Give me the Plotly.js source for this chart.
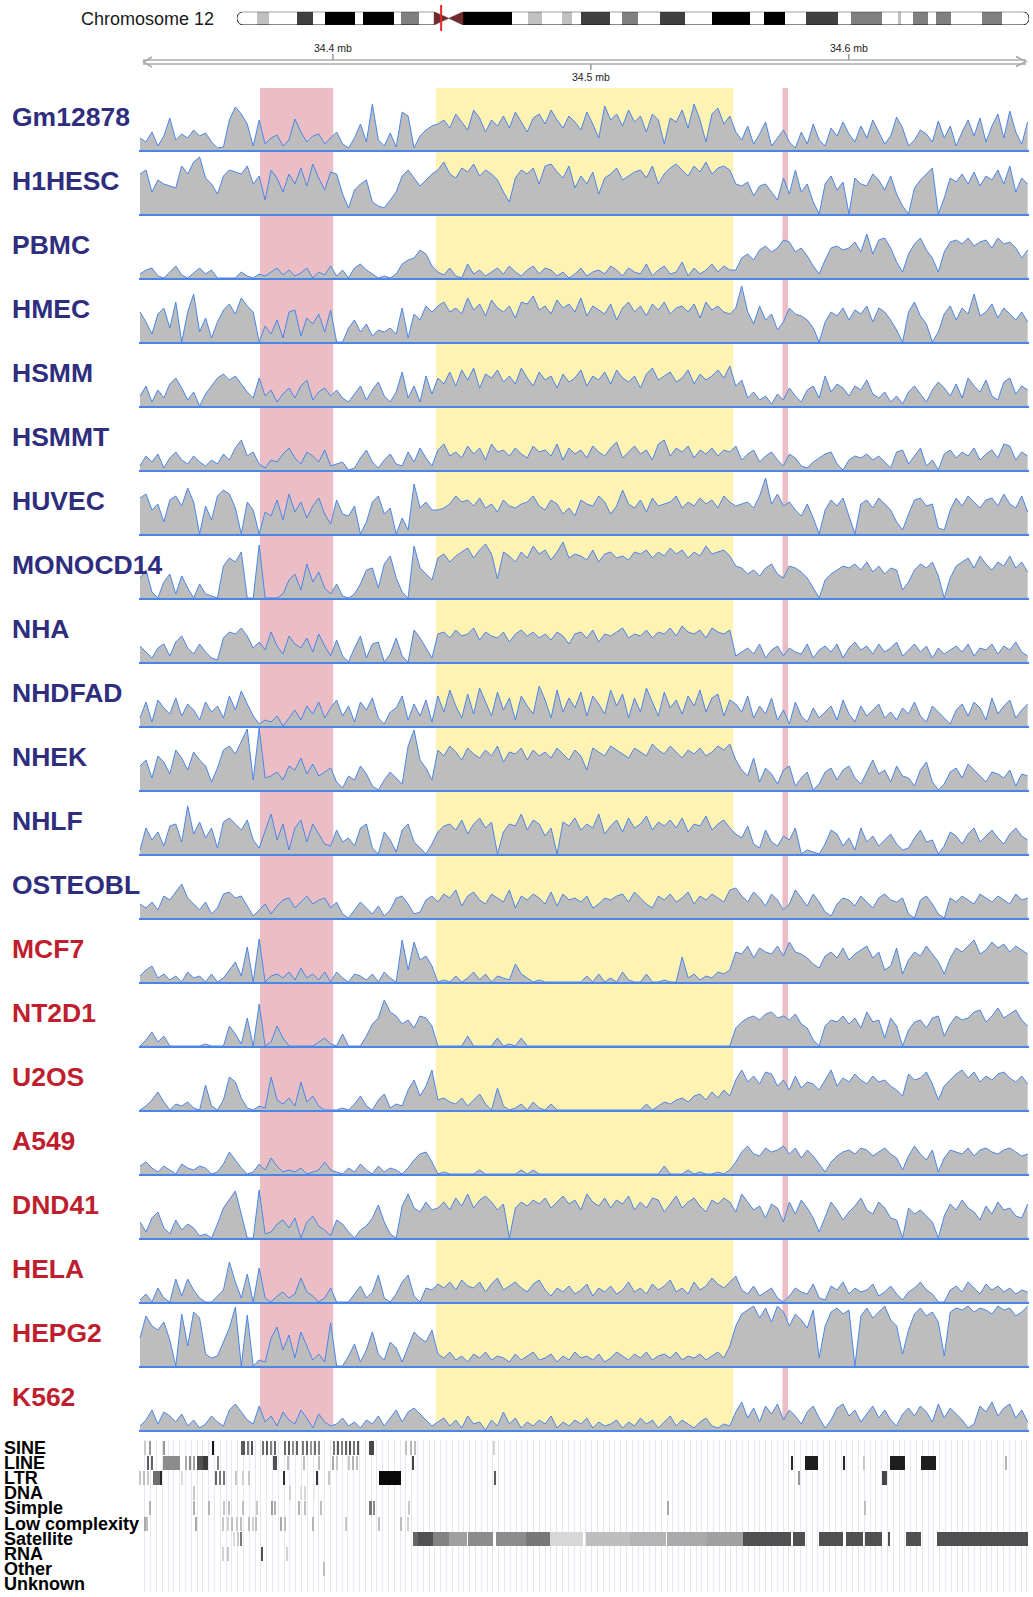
<!DOCTYPE html>
<html><head><meta charset="utf-8">
<script src="https://cdn.plot.ly/plotly-3.0.1.min.js"></script>
<style>html,body{margin:0;padding:0;background:#fff}#chart{width:1033px;height:1597px}</style>
</head><body><div id="chart"></div>
<script>
// ---------------- DATA ----------------
const chromName = 'Chromosome 12';
const chromLength = 133.85; // Mb
const bandStart = [3.3,10.1,14.8,21.3,27.8,38.2,49.1,54.9,58.1,65.1,71.5,80.3,89.0,96.2,103.8,111.7,114.3,118.1,125.9];
const bandEnd   = [5.4,12.8,20.0,26.5,30.7,46.4,51.5,56.6,63.1,67.7,75.7,86.7,92.6,101.6,109.0,112.3,116.8,120.7,129.3];
const bandStain = ['gpos25','gpos75','gpos100','gpos100','gpos50','gpos100','gpos25','gpos25','gpos75','gpos50','gpos75','gpos100','gpos100','gpos75','gpos50','gpos25','gpos50','gpos50','gpos50'];
const acenStart = [33.3, 35.8];
const acenEnd   = [35.8, 38.2];
const viewedRegionMb = 34.5;

const rulerTicks = [34.4, 34.5, 34.6];
const rulerTickSide = ['up', 'down', 'up'];

const highlightStart = [34.3717, 34.4399, 34.5743];
const highlightEnd   = [34.4001, 34.5552, 34.5765];
const highlightColor = ['#ebbec6', '#fff3b3', '#ebbec6'];

const binStart = 34.3252;   // Mb, first bin
const binSize  = 0.00231;   // Mb per bin

const trackNames = ['Gm12878','H1HESC','PBMC','HMEC','HSMM','HSMMT','HUVEC','MONOCD14','NHA','NHDFAD','NHEK','NHLF','OSTEOBL','MCF7','NT2D1','U2OS','A549','DND41','HELA','HEPG2','K562'];
const trackGroup = ['normal','normal','normal','normal','normal','normal','normal','normal','normal','normal','normal','normal','normal','cancer','cancer','cancer','cancer','cancer','cancer','cancer','cancer'];

const sigGm12878 = [12,8,18,4,14,32,10,16,12,20,14,17,8,2,3,30,43,36,26,4,
 30,6,12,15,4,10,31,18,8,14,16,6,12,
 18,6,2,12,26,8,46,10,4,17,3,38,34,2,14,20,24,
 26,30,22,36,28,20,40,32,18,30,24,34,22,38,28,18,32,36,26,40,30,22,34,28,20,38,26,12,44,30,36,24,40,28,34,18,36,30,6,32,28,40,22,46,30,8,36,42,26,34,
 18,10,24,6,16,28,4,12,20,8,2,18,6,26,10,4,22,14,28,16,8,24,12,30,18,6,14,33,22,4,10,20,16,8,29,12,24,4,18,30,14,32,8,24,36,12,39,18,6,28];
const sigH1HESC = [40,44,22,34,30,28,26,48,40,52,57,36,30,20,38,44,42,40,48,30,
 38,14,44,36,22,40,30,46,28,50,36,24,42,
 40,20,6,24,30,34,12,8,6,14,22,38,44,36,28,34,40,
 44,52,40,36,46,42,50,38,44,40,34,22,12,36,44,40,46,30,48,50,42,36,48,26,38,30,42,20,36,40,46,34,38,42,44,36,48,30,40,46,50,44,38,48,42,52,40,46,48,44,
 30,28,32,18,28,30,22,14,36,20,44,22,30,12,0,30,38,24,32,0,36,30,28,40,34,24,38,20,8,0,26,34,40,46,0,16,36,32,40,30,42,28,38,34,44,30,48,22,36,30];
const sigPBMC = [4,8,10,2,0,6,12,3,0,5,10,4,8,0,0,0,0,6,2,0,
 4,2,6,10,3,8,2,5,10,0,6,3,12,
 2,8,0,10,14,8,4,0,2,0,4,14,18,20,28,24,12,
 6,3,10,2,0,14,4,8,2,6,10,4,12,6,2,8,12,4,10,8,2,6,0,4,10,2,6,8,4,12,8,2,10,6,4,14,2,8,12,4,6,16,2,10,4,8,14,6,12,8,
 8,20,24,18,28,32,26,30,38,36,26,30,22,12,4,18,30,32,28,30,36,26,44,24,38,40,30,16,6,24,34,40,28,20,6,26,36,38,34,40,32,36,38,30,40,34,36,30,20,28];
const sigHMEC = [30,20,8,28,34,14,40,0,30,48,10,24,4,20,32,38,28,44,36,30,
 0,16,8,22,4,30,32,6,24,18,28,10,32,
 0,0,14,22,10,18,6,12,10,14,8,34,4,28,22,36,30,
 36,40,30,34,28,44,32,38,26,42,34,30,36,24,40,38,46,32,36,28,42,34,38,30,44,26,36,32,28,38,22,34,40,30,36,26,38,32,40,28,34,36,30,38,24,40,32,36,30,28,
 34,56,30,18,36,22,28,12,20,34,28,26,22,14,0,20,30,26,34,22,32,28,36,20,34,30,22,12,0,30,40,26,18,0,10,28,36,22,34,28,48,26,30,38,24,34,28,22,30,20];
const sigHSMM = [10,20,4,16,8,22,28,18,6,14,0,12,20,28,32,26,30,22,14,8,
 28,10,16,4,12,18,8,20,26,6,14,18,10,
 16,8,4,12,20,6,16,24,10,4,14,34,8,20,4,30,12,
 28,22,34,20,36,26,38,18,32,28,36,24,30,22,38,28,20,34,26,30,18,32,24,28,36,20,30,26,34,22,36,28,24,30,18,32,38,26,30,34,24,28,36,22,32,26,30,36,28,40,
 20,26,8,14,6,10,2,12,6,18,10,4,16,20,8,30,14,22,18,10,20,16,26,12,8,14,4,10,2,14,20,12,4,16,24,18,10,22,8,28,20,14,26,10,6,24,28,12,20,16];
const sigHSMMT = [4,14,8,16,2,12,18,10,6,14,8,4,10,6,16,10,22,30,14,18,
 6,2,10,8,16,22,12,6,18,14,8,20,4,
 6,8,0,2,12,20,8,2,10,16,6,4,18,8,22,12,4,
 20,26,14,18,12,24,16,22,10,26,18,20,14,22,16,12,24,18,20,14,26,10,22,16,20,12,24,18,14,22,28,12,18,24,16,20,10,26,30,14,22,18,24,12,20,16,22,14,20,18,
 24,10,16,20,8,14,18,10,4,16,12,4,2,8,12,16,18,6,0,10,14,12,16,10,14,8,2,18,20,6,14,22,4,10,0,16,20,12,18,14,22,10,16,20,12,26,24,10,18,14];
const sigHUVEC = [36,40,24,30,12,34,38,28,46,32,0,28,14,38,44,40,26,0,32,24,
 0,22,18,34,14,40,22,32,16,28,36,20,10,
 34,20,18,28,0,12,32,38,20,26,0,16,4,50,26,32,24,
 24,26,30,38,32,34,28,36,26,30,22,34,28,26,30,32,38,28,24,34,30,20,26,18,34,30,28,38,32,20,28,44,30,26,34,22,36,28,30,32,38,26,32,28,36,30,34,26,38,32,
 28,30,32,26,38,56,30,40,28,32,24,18,30,16,0,24,34,28,36,18,0,30,34,26,36,30,24,12,4,20,34,36,28,30,6,4,24,36,28,38,32,26,34,36,28,40,30,26,38,22];
const sigMONOCD14 = [20,28,6,0,16,24,4,22,10,0,14,4,2,0,32,40,36,46,0,0,
 53,0,0,0,4,18,24,8,34,16,26,10,4,
 14,2,0,4,14,28,30,10,34,42,20,6,0,52,30,24,18,
 40,44,36,42,46,50,40,48,54,44,19,46,42,36,46,40,52,44,48,38,46,56,40,44,42,38,48,36,44,46,40,42,38,46,44,48,40,46,42,50,44,48,40,46,42,52,44,46,48,42,
 32,30,24,28,22,30,34,24,20,32,30,26,20,10,0,18,24,28,32,30,34,28,36,26,32,24,30,28,8,16,28,34,30,36,22,0,20,32,36,40,30,42,34,28,36,32,42,30,36,26];
const sigNHA = [16,10,4,14,18,6,20,26,14,8,18,10,4,2,24,30,28,34,26,14,
 20,12,30,16,8,26,18,14,24,10,28,16,6,
 22,6,0,14,26,4,18,20,0,8,24,6,0,32,24,14,4,
 28,30,24,32,26,28,34,22,30,26,24,30,20,28,32,26,30,24,28,22,30,26,18,28,30,24,32,20,28,26,30,34,24,28,26,32,24,30,28,34,26,36,30,28,32,24,34,30,28,32,
 6,10,14,8,18,4,12,16,6,14,10,8,18,4,12,16,10,18,4,14,20,12,16,8,18,10,14,20,6,12,18,10,16,4,14,8,12,16,10,18,6,14,12,18,8,16,12,20,10,6];
const sigNHDFAD = [8,24,4,26,18,12,28,10,22,16,6,24,14,20,8,30,16,35,22,10,
 2,6,4,10,0,8,16,6,20,12,24,8,18,
 26,10,20,4,24,16,28,8,2,14,18,30,6,22,10,26,4,
 30,14,36,20,8,32,12,38,24,10,34,16,28,6,30,20,12,40,26,8,36,14,28,18,34,10,30,22,12,36,20,32,8,28,14,38,24,10,34,18,26,12,30,20,36,14,28,32,10,26,
 22,14,30,8,20,12,28,6,16,2,24,10,4,18,8,14,20,6,26,12,4,20,10,16,22,8,14,6,18,12,24,10,4,20,14,8,2,16,22,10,24,18,6,28,12,20,26,8,16,22];
const sigNHEK = [24,30,12,34,28,16,40,32,20,38,30,24,8,22,40,44,36,48,61,10,
 62,12,14,18,10,24,20,32,16,26,14,18,22,
 8,2,14,10,24,16,4,0,10,18,12,6,44,60,30,22,10,
 40,34,44,38,30,42,36,32,40,34,44,28,38,36,42,30,40,34,38,32,42,36,30,40,34,20,42,38,34,44,40,36,32,42,38,34,46,40,36,44,38,32,40,36,42,34,38,44,40,46,
 30,20,14,32,8,22,16,6,20,24,4,12,18,0,6,18,22,10,20,24,12,6,18,30,16,20,8,24,14,12,4,20,28,8,0,6,18,22,12,26,20,14,8,18,16,12,20,4,16,14];
const sigNHLF = [4,26,14,22,8,28,30,12,48,20,32,16,26,6,32,36,30,24,34,14,
 6,22,40,14,30,4,26,34,12,30,20,10,8,
 24,12,16,8,26,30,6,0,22,14,2,24,30,12,6,0,10,
 22,28,30,24,34,20,30,36,26,32,0,22,30,28,40,24,34,30,18,26,0,32,28,36,24,30,26,40,20,28,34,22,36,26,30,38,24,32,28,34,26,36,22,30,28,38,24,30,34,26,
 20,16,28,10,6,24,12,8,18,14,26,0,4,2,0,10,24,20,8,16,4,26,12,18,8,14,20,10,4,6,16,24,12,14,0,8,22,18,10,20,26,12,18,24,16,10,20,26,18,14];
const sigOSTEOBL = [14,10,16,8,22,18,26,34,20,14,8,16,4,10,24,26,20,22,12,2,
 8,14,4,12,18,20,10,16,22,14,18,20,10,
 16,4,0,8,16,10,4,12,2,8,20,22,14,4,6,18,22,
 16,24,20,28,12,22,26,18,14,24,20,16,28,10,22,18,24,20,14,26,12,24,18,20,16,22,10,14,20,18,22,24,16,26,20,14,10,22,18,24,16,20,26,14,22,18,24,20,16,28,
 30,22,16,26,20,12,24,18,8,14,28,20,12,24,16,6,2,14,20,18,12,22,16,10,20,24,18,16,20,4,0,18,22,14,4,0,20,16,22,18,14,24,20,16,22,18,14,24,18,20];
const sigMCF7 = [6,12,16,4,8,2,6,0,10,4,6,0,8,0,4,12,20,6,35,0,
 43,0,6,8,4,10,2,14,4,8,2,10,0,
 10,4,0,8,6,2,8,0,10,4,0,42,12,40,22,26,16,
 0,2,0,6,0,4,10,2,8,0,6,4,2,18,8,4,0,2,0,0,0,0,0,0,0,6,0,8,0,4,0,10,2,0,0,8,0,0,2,0,0,25,4,8,2,6,4,10,8,12,
 30,28,36,24,34,30,28,36,26,40,30,28,24,18,14,26,30,24,34,22,28,32,36,24,30,12,16,34,8,22,30,26,36,28,20,8,24,34,30,36,42,28,32,40,34,38,30,36,32,28];
const sigNT2D1 = [0,6,14,4,10,0,0,0,0,0,0,2,0,0,0,20,12,2,28,0,
 42,0,4,20,8,0,0,0,0,0,4,8,2,
 0,12,0,0,0,10,22,28,46,34,30,22,26,18,30,28,20,
 0,0,0,0,0,10,0,0,0,0,8,0,2,0,8,0,0,0,0,0,0,0,0,0,0,0,0,0,0,0,0,0,0,0,0,0,0,0,0,0,0,0,0,0,0,0,0,0,0,0,
 18,24,28,30,26,32,34,28,30,26,32,22,18,6,0,20,26,24,30,22,28,18,34,24,26,8,28,20,0,16,24,26,18,28,30,10,22,30,26,28,34,36,24,30,38,28,32,36,26,20];
const sigU2OS = [0,4,10,18,8,0,6,4,8,2,0,25,4,0,10,33,28,12,2,0,
 4,2,33,10,6,12,4,28,8,14,4,0,0,
 0,2,0,6,14,4,0,10,16,2,6,4,20,30,14,24,40,
 10,12,8,6,12,4,10,16,6,0,22,4,0,2,6,0,8,2,0,6,0,0,0,0,0,0,0,0,0,0,0,0,0,0,0,6,0,4,8,6,10,12,8,14,16,10,18,12,20,14,
 30,40,28,34,26,38,36,24,30,20,34,22,28,26,20,30,40,24,32,28,36,30,26,34,28,30,24,20,14,36,30,32,38,26,10,24,30,36,40,32,38,28,34,30,36,38,32,28,34,26];
const sigA549 = [8,12,6,2,8,4,0,10,6,4,8,6,0,2,10,22,14,6,0,2,
 10,4,16,8,2,4,2,6,0,2,4,12,4,
 2,0,6,2,10,4,0,8,2,6,4,0,6,14,20,22,12,
 0,2,0,0,0,0,0,4,0,0,0,0,0,0,4,0,4,0,0,0,0,0,0,0,0,0,0,0,0,0,0,0,0,0,0,0,0,0,8,0,0,0,4,0,2,0,0,2,0,4,
 12,22,28,20,18,26,22,24,28,20,26,16,24,18,10,2,12,18,22,24,20,26,24,18,22,26,20,16,4,18,28,20,14,24,2,16,24,22,20,26,18,24,26,22,20,24,26,22,18,20];
const sigDND41 = [16,6,20,26,10,4,18,8,14,10,2,4,0,14,30,38,47,24,0,0,
 48,4,6,14,18,10,20,0,16,22,12,8,2,
 18,14,6,0,8,12,20,33,16,4,0,32,44,30,26,36,28,
 30,36,28,40,32,44,30,38,42,36,28,34,0,30,36,32,38,34,40,30,36,42,34,38,28,44,36,32,40,30,38,34,42,28,36,30,40,38,26,34,42,30,36,40,32,26,38,34,40,36,
 26,44,36,28,32,20,34,30,16,36,24,38,30,20,6,22,36,28,18,26,32,40,28,24,36,30,20,18,0,30,24,28,22,16,0,22,34,28,38,30,26,18,32,24,36,28,30,22,20,34];
const sigHELA = [2,8,0,14,4,0,23,6,23,12,4,0,0,6,12,40,20,4,28,0,
 34,4,0,6,10,4,8,24,10,6,0,4,14,
 0,0,0,8,16,4,10,27,4,0,8,20,27,6,0,14,12,
 18,14,20,12,22,16,14,20,10,18,24,12,16,20,14,10,18,22,12,6,14,10,16,8,12,18,6,14,10,16,8,12,20,10,14,8,18,12,16,22,10,14,8,20,12,16,24,18,14,20,
 26,12,8,16,6,10,14,4,0,6,14,10,8,18,4,2,16,12,20,8,14,10,12,18,6,10,16,8,2,10,14,20,12,8,0,0,12,16,10,20,14,8,18,12,16,10,14,8,12,10];
const sigHEPG2 = [28,50,40,36,44,26,0,52,20,54,48,12,8,10,24,38,59,0,51,0,
 6,4,28,39,16,31,8,34,20,6,12,4,43,
 0,0,10,22,4,16,34,12,6,24,18,4,20,34,28,24,36,
 12,8,14,6,10,4,12,8,14,6,10,8,4,12,6,10,14,6,8,12,4,10,6,14,8,10,6,12,4,8,14,10,6,12,8,14,6,10,12,8,14,6,10,8,12,6,10,14,8,20,
 40,52,56,60,48,58,44,60,54,40,52,46,38,56,8,40,54,58,52,56,0,50,58,48,54,60,46,40,12,36,52,58,50,54,44,10,54,58,56,60,54,58,56,52,60,56,58,50,54,60];
const sigK562 = [4,10,20,6,18,14,8,16,4,10,2,6,14,8,4,20,26,18,10,6,
 24,8,14,4,18,10,6,20,12,2,16,8,4,
 6,12,4,8,2,10,6,14,4,12,20,8,18,22,16,10,4,
 8,12,4,10,2,14,6,8,0,10,4,18,6,12,2,8,4,10,6,14,2,8,4,10,6,12,2,8,4,6,10,2,8,4,12,6,10,2,8,14,4,10,6,2,8,12,4,2,6,4,
 18,28,12,22,8,24,16,26,10,20,14,6,18,24,12,2,10,22,26,14,20,8,16,24,12,20,10,4,16,22,14,24,18,8,26,12,22,16,10,2,6,24,18,28,14,22,26,12,20,8];

const trackValues = [sigGm12878,sigH1HESC,sigPBMC,sigHMEC,sigHSMM,sigHSMMT,sigHUVEC,sigMONOCD14,sigNHA,sigNHDFAD,sigNHEK,sigNHLF,sigOSTEOBL,sigMCF7,sigNT2D1,sigU2OS,sigA549,sigDND41,sigHELA,sigHEPG2,sigK562];

// repeat features: [start kb, end kb, grey level]
const repeatRows = ['SINE','LINE','LTR','DNA','Simple','Low complexity','Satellite','RNA','Other','Unknown'];
const sineFeat = [[34326.7,34327.5,200],[34328.7,34329.5,150],[34334.1,34334.9,150],[34353.1,34353.9,20],
 [34364.4,34365.9,90],[34366.7,34367.5,120],[34368.2,34369.0,80],[34372.5,34373.3,110],[34374.0,34374.8,90],[34375.6,34376.4,130],[34377.2,34378.0,100],
 [34381.0,34381.8,110],[34382.6,34383.4,90],[34384.1,34384.9,140],[34385.7,34386.5,100],[34388.0,34388.8,120],[34389.6,34390.4,100],[34391.1,34391.9,150],[34392.7,34393.5,110],[34394.2,34395.0,130],
 [34400.1,34400.9,120],[34401.6,34402.4,90],[34403.2,34404.0,130],[34404.7,34405.5,100],[34406.3,34407.1,80],[34407.8,34408.6,120],[34409.4,34410.2,90],[34414.0,34416.0,70],
 [34428.0,34428.8,190],[34429.9,34430.7,180],[34431.5,34432.3,190],[34462.1,34462.9,210]];
const lineFeat = [[34327.9,34328.7,90],[34329.5,34330.3,100],[34334.1,34340.7,140],[34342.6,34343.4,170],[34344.2,34345.0,140],[34345.7,34346.5,160],[34347.3,34349.5,80],[34349.5,34351.6,60],[34355.1,34356.0,130],
 [34376.8,34378.3,80],[34382.2,34383.0,190],[34388.4,34389.2,190],[34394.2,34395.0,190],[34399.7,34400.5,170],[34401.2,34402.0,200],[34405.9,34406.7,200],[34407.5,34408.3,180],[34409.0,34409.8,190],
 [34430.7,34431.5,70],[34577.7,34578.5,40],[34583.1,34588.2,30],[34597.9,34598.7,40],[34605.6,34606.4,200],[34616.1,34621.9,30],[34628.1,34633.9,30],[34660.7,34661.5,180]];
const ltrFeat = [[34324.8,34325.6,200],[34326.3,34327.1,190],[34327.9,34328.7,200],[34330.2,34333.0,110],[34333.0,34333.7,40],[34341.1,34341.9,220],[34354.3,34355.1,100],[34355.9,34356.7,120],[34357.4,34358.2,120],
 [34362.0,34362.8,200],[34364.8,34365.6,210],[34367.1,34367.9,200],[34380.7,34381.5,50],[34393.5,34394.3,50],[34398.1,34398.9,200],[34417.9,34426.4,10],[34462.5,34463.3,90],
 [34580.4,34581.2,150],[34613.0,34614.9,70]];
const dnaFeat = [[34345.7,34346.5,200],[34383.0,34383.8,210],[34387.3,34388.1,220],[34388.8,34389.6,215],[34392.3,34393.1,235]];
const simpleFeat = [[34328.7,34329.5,180],[34345.7,34346.5,180],[34351.6,34352.4,180],[34357.4,34358.2,200],[34359.3,34360.1,190],[34364.8,34365.6,190],[34370.2,34371.0,200],[34376.0,34376.8,160],[34377.2,34378.0,180],[34386.5,34387.3,180],[34388.8,34389.6,190],[34395.0,34395.8,190],[34414.0,34415.0,120],[34415.4,34416.2,140],[34429.1,34429.9,200],
 [34529.6,34530.4,170],[34606.0,34606.8,190]];
const lowComplexFeat = [[34326.7,34327.5,170],[34327.7,34328.3,190],[34346.5,34347.3,170],[34357.0,34357.8,200],[34358.9,34359.7,210],[34360.5,34361.3,190],[34362.4,34363.2,200],[34364.0,34364.8,190],[34367.1,34367.9,190],[34368.6,34369.4,210],[34369.8,34370.6,190],
 [34379.5,34380.3,170],[34381.0,34381.8,190],[34391.9,34392.7,180],[34404.7,34405.5,200],[34417.5,34418.3,190],[34426.0,34426.8,190],[34428.8,34429.6,210]];
const satelliteFeat = [[34361.3,34362.1,220],[34362.8,34363.6,200],[34364.0,34364.8,120],
 [34431.1,34433.0,100],[34433.0,34438.8,80],[34438.8,34445.0,130],[34445.0,34452.0,160],[34452.4,34462.1,140],[34463.3,34475.0,140],[34475.0,34484.2,120],[34484.2,34497.0,215],[34498.2,34515.0,190],[34515.0,34529.2,180],[34529.6,34545.0,170],[34545.0,34559.1,160],
 [34559.1,34577.7,80],[34578.5,34583.1,80],[34588.6,34597.9,80],[34599.0,34605.6,80],[34606.4,34613.0,80],[34615.3,34616.1,80],[34622.3,34628.1,80],[34634.3,34661.1,80],[34661.1,34669.6,80]];
const rnaFeat = [[34357.0,34357.8,210],[34359.0,34359.8,200],[34372.1,34372.9,80],[34381.8,34382.6,210]];
const otherFeat = [[34396.2,34397.0,190]];
const unknownFeat = [];
const repeatFeatures = [sineFeat,lineFeat,ltrFeat,dnaFeat,simpleFeat,lowComplexFeat,satelliteFeat,rnaFeat,otherFeat,unknownFeat];

// ---------------- LAYOUT HELPERS ----------------
const W = 1033, H = 1597;
const px = p => p / W;
const py = p => 1 - p / H;
const trackX0 = 139, trackX1 = 1029;
const viewRange = [34.3248, 34.6699];
const firstBaseline = 150, trackStep = 64, trackHeight = 62;
const groupColor = {normal: '#2e2d7e', cancer: '#be1e2d'};
const stainColor = {gpos25: '#c0c0c0', gpos50: '#808080', gpos75: '#404040', gpos100: '#000000'};

const traces = [];
const layout = {
  width: W, height: H,
  margin: {l: 0, r: 0, t: 0, b: 0},
  paper_bgcolor: '#ffffff', plot_bgcolor: 'rgba(0,0,0,0)',
  font: {family: 'Liberation Sans, Arial, Helvetica, sans-serif', color: '#222'},
  showlegend: false, hovermode: false, barmode: 'overlay', bargap: 0,
  shapes: [], annotations: []
};

// ---------------- SIGNAL TRACKS ----------------
trackValues.forEach((vals, i) => {
  const k = i + 1, s = k === 1 ? '' : String(k);
  const base = firstBaseline + trackStep * i;
  traces.push({
    type: 'scatter', mode: 'lines',
    x: vals.map((_, j) => binStart + j * binSize), y: vals,
    xaxis: 'x' + s, yaxis: 'y' + s,
    fill: 'tozeroy', fillcolor: '#bdbdbd',
    line: {color: '#4a86e8', width: 1}, hoverinfo: 'skip'
  });
  layout['xaxis' + s] = {domain: [px(trackX0), px(trackX1)], range: viewRange, anchor: 'y' + s,
    showline: true, linecolor: '#4a86e8', linewidth: 1.6, showgrid: false, zeroline: false,
    showticklabels: false, ticks: '', fixedrange: true};
  layout['yaxis' + s] = {domain: [py(base), py(base - trackHeight)], range: [0, trackHeight], anchor: 'x' + s,
    visible: false, fixedrange: true};
  layout.annotations.push({xref: 'paper', yref: 'paper', x: px(10), y: py(base - 33),
    xanchor: 'left', yanchor: 'middle', showarrow: false, text: trackNames[i],
    font: {size: 26.5, weight: 'bold', color: groupColor[trackGroup[i]]}});
});

// highlight regions (behind tracks)
highlightStart.forEach((s, i) => {
  layout.shapes.push({type: 'rect', xref: 'x', yref: 'paper', x0: s, x1: highlightEnd[i],
    y0: py(firstBaseline + trackStep * 20 + 1), y1: py(88), fillcolor: highlightColor[i],
    line: {width: 0}, layer: 'below'});
});

// ---------------- REPEATS PANEL ----------------
const rep = {y: [], x: [], base: [], color: []};
repeatFeatures.forEach((feats, r) => {
  feats.forEach(f => {
    rep.y.push(r); rep.base.push(f[0] / 1000); rep.x.push((f[1] - f[0]) / 1000);
    rep.color.push(`rgb(${f[2]},${f[2]},${f[2]})`);
  });
});
traces.push({type: 'bar', orientation: 'h', x: rep.x, y: rep.y, base: rep.base, width: 0.92,
  marker: {color: rep.color, line: {width: 0}}, xaxis: 'x22', yaxis: 'y22', hoverinfo: 'skip'});
const repTop = 1440, repRow = 15.2;
layout.xaxis22 = {domain: [px(trackX0), px(trackX1)], range: viewRange, anchor: 'y22',
  showgrid: true, gridcolor: '#e6e6f0', gridwidth: 1, tick0: viewRange[0], dtick: 0.00225,
  showticklabels: false, ticks: '', zeroline: false, showline: false, fixedrange: true};
layout.yaxis22 = {domain: [py(repTop + repRow * repeatRows.length), py(repTop)], range: [repeatRows.length - 0.5, -0.5],
  anchor: 'x22', visible: false, fixedrange: true};
repeatRows.forEach((name, r) => {
  layout.annotations.push({xref: 'paper', yref: 'paper', x: px(2), y: py(repTop + repRow * (r + 0.5)),
    xanchor: 'left', yanchor: 'middle', showarrow: false, text: name,
    font: {size: 18, weight: 'bold', color: '#000'}});
});

// ---------------- IDEOGRAM ----------------
const ideoX0 = 237, ideoX1 = 1029, ideoTop = 11.7, ideoBot = 25;
traces.push({type: 'bar', orientation: 'h', y: bandStart.map(() => 0.5), base: bandStart,
  x: bandStart.map((s, i) => bandEnd[i] - s), width: 1,
  marker: {color: bandStain.map(s => stainColor[s]), line: {width: 0}},
  xaxis: 'x23', yaxis: 'y23', hoverinfo: 'skip'});
traces.push({type: 'scatter', mode: 'lines', x: [acenStart[0], acenStart[0], acenEnd[0], acenStart[0]], y: [0, 1, 0.5, 0],
  fill: 'toself', fillcolor: '#6e2b2b', line: {color: '#6e2b2b', width: 0.5}, xaxis: 'x23', yaxis: 'y23', hoverinfo: 'skip'});
traces.push({type: 'scatter', mode: 'lines', x: [acenEnd[1], acenEnd[1], acenStart[1], acenEnd[1]], y: [0, 1, 0.5, 0],
  fill: 'toself', fillcolor: '#6e2b2b', line: {color: '#6e2b2b', width: 0.5}, xaxis: 'x23', yaxis: 'y23', hoverinfo: 'skip'});
layout.xaxis23 = {domain: [px(ideoX0), px(ideoX1)], range: [0, chromLength], anchor: 'y23', visible: false, fixedrange: true};
layout.yaxis23 = {domain: [py(ideoBot), py(ideoTop)], range: [0, 1], anchor: 'x23', visible: false, fixedrange: true};
const rr = 1.14, kk = rr * 4 / 3;
layout.shapes.push({type: 'path', xref: 'x23', yref: 'y23', layer: 'above',
  path: `M ${acenStart[0]},0 L ${rr},0 C ${rr - kk},0 ${rr - kk},1 ${rr},1 L ${acenStart[0]},1`,
  line: {color: '#111', width: 1}});
layout.shapes.push({type: 'path', xref: 'x23', yref: 'y23', layer: 'above',
  path: `M ${acenEnd[1]},0 L ${chromLength - rr},0 C ${chromLength - rr + kk},0 ${chromLength - rr + kk},1 ${chromLength - rr},1 L ${acenEnd[1]},1`,
  line: {color: '#111', width: 1}});
layout.shapes.push({type: 'line', xref: 'x23', yref: 'paper', x0: viewedRegionMb, x1: viewedRegionMb,
  y0: py(31), y1: py(5), line: {color: '#e8262b', width: 2}, layer: 'above'});
layout.annotations.push({xref: 'paper', yref: 'paper', x: px(216), y: py(18.5), xanchor: 'right', yanchor: 'middle',
  showarrow: false, text: chromName, font: {size: 18, color: '#1a1a1a'}});

// ---------------- GENOMIC RULER ----------------
const rulerGrey = '#ababab';
[60, 64].forEach(yy => layout.shapes.push({type: 'line', xref: 'paper', yref: 'paper',
  x0: px(143), x1: px(1026), y0: py(yy), y1: py(yy), line: {color: rulerGrey, width: 1.6}}));
layout.shapes.push({type: 'path', xref: 'paper', yref: 'paper',
  path: `M ${px(152)},${py(57)} L ${px(143.5)},${py(62)} L ${px(152)},${py(67)}`, line: {color: rulerGrey, width: 1.6}});
layout.shapes.push({type: 'path', xref: 'paper', yref: 'paper',
  path: `M ${px(1016)},${py(56.5)} L ${px(1026)},${py(61.5)} L ${px(1016)},${py(66.5)}`, line: {color: rulerGrey, width: 1.6}});
rulerTicks.forEach((v, i) => {
  const up = rulerTickSide[i] === 'up';
  layout.shapes.push({type: 'line', xref: 'x', yref: 'paper', x0: v, x1: v,
    y0: py(up ? 60 : 64), y1: py(up ? 54 : 70), line: {color: '#999', width: 1.5}});
  layout.annotations.push({xref: 'x', yref: 'paper', x: v, y: py(up ? 48 : 77), xanchor: 'center', yanchor: 'middle',
    showarrow: false, text: v.toFixed(1) + ' mb', font: {size: 10.5, color: '#222'}});
});

Plotly.newPlot('chart', traces, layout, {staticPlot: true, displayModeBar: false});
</script></body></html>
